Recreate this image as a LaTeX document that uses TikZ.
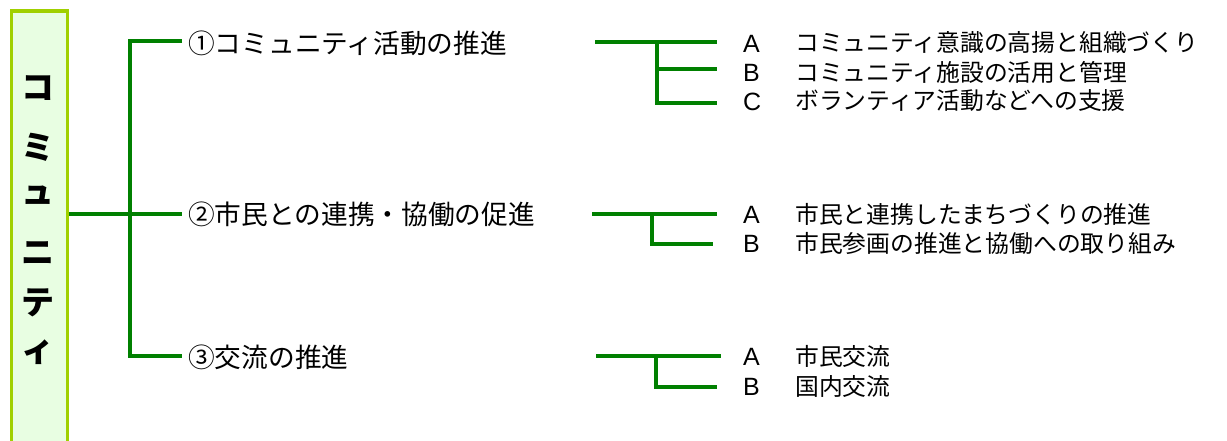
\documentclass[tikz,border=0pt]{standalone}
\usepackage{fontspec}
\setmainfont{Liberation Sans}
\newfontfamily\jp{Noto Sans CJK JP}
\definecolor{limeb}{RGB}{160,208,0}
\definecolor{lightg}{RGB}{232,254,226}
\definecolor{lg}{RGB}{0,128,0}
\begin{document}
\begin{tikzpicture}[x=1pt,y=-1pt,
  conn/.style={draw=lg, line width=3.6pt},
  lab/.style={anchor=west, inner sep=0pt, font=\jp\fontsize{26.7}{26}\selectfont},
  subt/.style={anchor=west, inner sep=0pt, font=\jp\fontsize{23.8}{22}\selectfont},
  letr/.style={anchor=west, inner sep=0pt, font=\fontsize{25}{22}\selectfont},
  tch/.style={font=\jp\bfseries\fontsize{33}{33}\selectfont, inner sep=0pt}]
\useasboundingbox (0,0) rectangle (1227,441);
% title box
\node[draw=limeb, fill=lightg, line width=3.6pt, minimum width=56pt, minimum height=445pt,
      anchor=north west, inner sep=0pt] (box) at (9.5,9.5) {};
\node[tch] (t1) at (38,88) {コ};
\node[tch] (t2) at (38,147) {ミ};
\node[tch] (t3) at (38,195) {ュ};
\node[tch] (t4) at (38,253) {ニ};
\node[tch] (t5) at (38,303) {テ};
\node[tch] (t6) at (38,352) {ィ};
% level 1 labels
\node[lab] (l1) at (188,43) {①コミュニティ活動の推進};
\node[lab] (l2) at (188,214) {②市民との連携・協働の促進};
\node[lab] (l3) at (188,357) {③交流の推進};
% main tree
\coordinate (root) at (box.east |- 0,214);
\coordinate (j1) at (130,41);
\coordinate (j3) at (130,356);
\coordinate (e1) at (182,41);
\coordinate (e2) at (182,214);
\coordinate (e3) at (182,356);
\draw[conn] (root) -- (e2);
\draw[conn] (e1) -- (j1) -- (j3) -- (e3);
% group 1
\coordinate (g1s) at (595,42);
\coordinate (g1a) at (717,42);
\coordinate (g1j) at (657,42);
\coordinate (g1b) at (717,69);
\coordinate (g1c) at (717,103);
\draw[conn] (g1s) -- (g1a);
\draw[conn] (g1j) -- (g1j |- g1c) -- (g1c);
\draw[conn] (g1j |- g1b) -- (g1b);
\node[letr] (a1) at (743,44) {A};
\node[letr] (b1) at (743,73) {B};
\node[letr] (c1) at (743,102) {C};
\node[subt] (s1a) at (795,43) {コミュニティ意識の高揚と組織づくり};
\node[subt] (s1b) at (795,72) {コミュニティ施設の活用と管理};
\node[subt] (s1c) at (795,101) {ボランティア活動などへの支援};
% group 2
\coordinate (g2s) at (592,214);
\coordinate (g2a) at (717,214);
\coordinate (g2j) at (652,214);
\coordinate (g2b) at (713,244);
\draw[conn] (g2s) -- (g2a);
\draw[conn] (g2j) -- (g2j |- g2b) -- (g2b);
\node[letr] (a2) at (743,215) {A};
\node[letr] (b2) at (743,244) {B};
\node[subt] (s2a) at (795,214) {市民と連携したまちづくりの推進};
\node[subt] (s2b) at (795,243) {市民参画の推進と協働への取り組み};
% group 3
\coordinate (g3s) at (596,356);
\coordinate (g3a) at (721,356);
\coordinate (g3j) at (656,356);
\coordinate (g3b) at (717,387);
\draw[conn] (g3s) -- (g3a);
\draw[conn] (g3j) -- (g3j |- g3b) -- (g3b);
\node[letr] (a3) at (743,357) {A};
\node[letr] (b3) at (743,387) {B};
\node[subt] (s3a) at (795,356) {市民交流};
\node[subt] (s3b) at (795,386) {国内交流};
\end{tikzpicture}
\end{document}
